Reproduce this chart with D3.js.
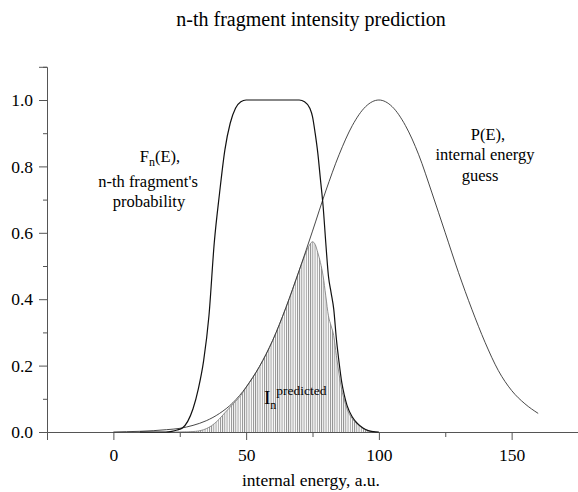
<!DOCTYPE html>
<html><head><meta charset="utf-8">
<script src="https://cdn.jsdelivr.net/npm/d3@7"></script>
<style>
body{margin:0;background:#fff}
</style>
</head><body>
<svg id="c" width="578" height="492"></svg>
<script>
// P(E): internal energy guess
const energyP = [0,5,10,15,20,25,30,35,40,45,50,55,60,65,70,75,80,85,90,95,100,105,110,115,120,125,130,135,140,145,150,155,160];
const probP   = [0,0.001,0.002,0.004,0.007,0.011,0.02,0.034,0.056,0.088,0.135,0.197,0.276,0.375,0.487,0.605,0.726,0.835,0.923,0.98,1.0,0.98,0.923,0.835,0.72,0.6,0.48,0.37,0.27,0.185,0.125,0.085,0.056];
// F_n(E): n-th fragment's probability
const energyF = [10,20,22,24,26,28,30,32,34,36,38,40,42,44,46,48,50,70,72,74,75,76,77,78,79,80,81,82,83,84,85,86,87,88,90,92,94,96,98,100];
const fragF   = [0,0,0.002,0.006,0.012,0.032,0.07,0.13,0.215,0.35,0.57,0.72,0.85,0.93,0.975,0.995,1,1,0.995,0.975,0.95,0.9,0.84,0.76,0.68,0.57,0.47,0.42,0.37,0.28,0.21,0.15,0.11,0.08,0.045,0.025,0.012,0.004,0.001,0];
// I_n predicted (shaded)
const energyI = [20,25,28,30,32,34,36,38,40,42,44,46,48,50,55,60,65,70,72,74,75,76,77,78,79,80,81,82,83,84,85,86,87,88,90,92,94,96,98];
const intensI = [0,0.0002,0.0005,0.0014,0.003,0.007,0.014,0.025,0.04,0.058,0.075,0.092,0.11,0.135,0.197,0.276,0.375,0.487,0.53,0.565,0.573,0.565,0.54,0.51,0.47,0.41,0.35,0.32,0.29,0.23,0.175,0.128,0.096,0.07,0.04,0.023,0.011,0.004,0];
const xMajor = [0,50,100,150];
const xMinor = [25,75,125,175];
const yMajor = [0,0.2,0.4,0.6,0.8,1.0];
const yMinor = [0.1,0.3,0.5,0.7,0.9,1.1];
const yLabels = ["0.0","0.2","0.4","0.6","0.8","1.0"];

const FONT = "'Liberation Serif','Times New Roman',Times,serif";
const svg = d3.select("#c");
const x = d3.scaleLinear().domain([-25,175]).range([47,578]);
const y = d3.scaleLinear().domain([0,1.1]).range([432,66.8]);

const defs = svg.append("defs");
const pat = defs.append("pattern").attr("id","hatch").attr("patternUnits","userSpaceOnUse")
  .attr("width",2.2).attr("height",4);
pat.append("rect").attr("x",0).attr("y",0).attr("width",0.9).attr("height",4).attr("fill","#8a8a8a");

const iData = energyI.map((e,i)=>[e,intensI[i]]);
svg.append("path").datum(iData)
  .attr("d", d3.area().x(d=>x(d[0])).y0(y(0)).y1(d=>y(d[1])).curve(d3.curveMonotoneX))
  .attr("fill","url(#hatch)");
svg.append("path").datum(iData)
  .attr("d", d3.line().x(d=>x(d[0])).y(d=>y(d[1])).curve(d3.curveMonotoneX))
  .attr("fill","none").attr("stroke","#777").attr("stroke-width",0.8);

// axes
const ax = svg.append("g").attr("transform","translate(0,432)");
ax.call(d3.axisBottom(x).tickValues(xMajor).tickSize(8).tickPadding(9).tickFormat(d3.format("d")));
const axm = svg.append("g").attr("transform","translate(0,432)");
axm.call(d3.axisBottom(x).tickValues(xMinor).tickSize(5).tickFormat(""));
const ay = svg.append("g").attr("transform","translate(47,0)");
ay.call(d3.axisLeft(y).tickValues(yMajor).tickSize(8).tickPadding(6).tickFormat((d,i)=>yLabels[i]));
const aym = svg.append("g").attr("transform","translate(47,0)");
aym.call(d3.axisLeft(y).tickValues(yMinor).tickSize(4).tickFormat(""));
[ax,axm,ay,aym].forEach(g=>g.attr("font-family",null).attr("font-size",null));
svg.selectAll(".domain").attr("stroke","#555").attr("stroke-width",1);
svg.selectAll(".tick line").attr("stroke","#555");
svg.selectAll(".tick text").attr("font-size",17.5).attr("fill","#000");
axm.select(".domain").remove(); aym.select(".domain").remove();

// curves
const line = d3.line().x(d=>x(d[0])).y(d=>y(d[1])).curve(d3.curveMonotoneX);
svg.append("path").datum(energyP.map((e,i)=>[e,probP[i]]))
  .attr("d",line).attr("fill","none").attr("stroke","#333").attr("stroke-width",0.9);
svg.append("path").datum(energyF.map((e,i)=>[e,fragF[i]]))
  .attr("d",line).attr("fill","none").attr("stroke","#111").attr("stroke-width",1.2);

// texts
svg.append("text").attr("x",311).attr("y",26).attr("text-anchor","middle").attr("font-size",20)
  .text("n-th fragment intensity prediction");
svg.append("text").attr("x",311).attr("y",486).attr("text-anchor","middle").attr("font-size",17.5)
  .text("internal energy, a.u.");

const f1 = svg.append("text").attr("x",160).attr("y",162).attr("text-anchor","middle").attr("font-size",16.5);
f1.append("tspan").text("F");
f1.append("tspan").attr("font-size",12).attr("dy",4).text("n");
f1.append("tspan").attr("dy",-4).text("(E),");
svg.append("text").attr("x",148).attr("y",187).attr("text-anchor","middle").attr("font-size",16.5).text("n-th fragment's");
svg.append("text").attr("x",149).attr("y",207).attr("text-anchor","middle").attr("font-size",16.5).text("probability");

svg.append("text").attr("x",488).attr("y",140).attr("text-anchor","middle").attr("font-size",16.5).text("P(E),");
svg.append("text").attr("x",485).attr("y",160).attr("text-anchor","middle").attr("font-size",16.5).text("internal energy");
svg.append("text").attr("x",480).attr("y",181).attr("text-anchor","middle").attr("font-size",16.5).text("guess");

const lab = svg.append("text").attr("x",264).attr("y",404).attr("font-size",19);
lab.append("tspan").text("I");
lab.append("tspan").attr("font-size",12).attr("dy",5).text("n");
lab.append("tspan").attr("font-size",13.5).attr("dy",-14).text("predicted");

svg.selectAll("text").style("font-family",FONT).style("fill","#000");
</script>
</body></html>
